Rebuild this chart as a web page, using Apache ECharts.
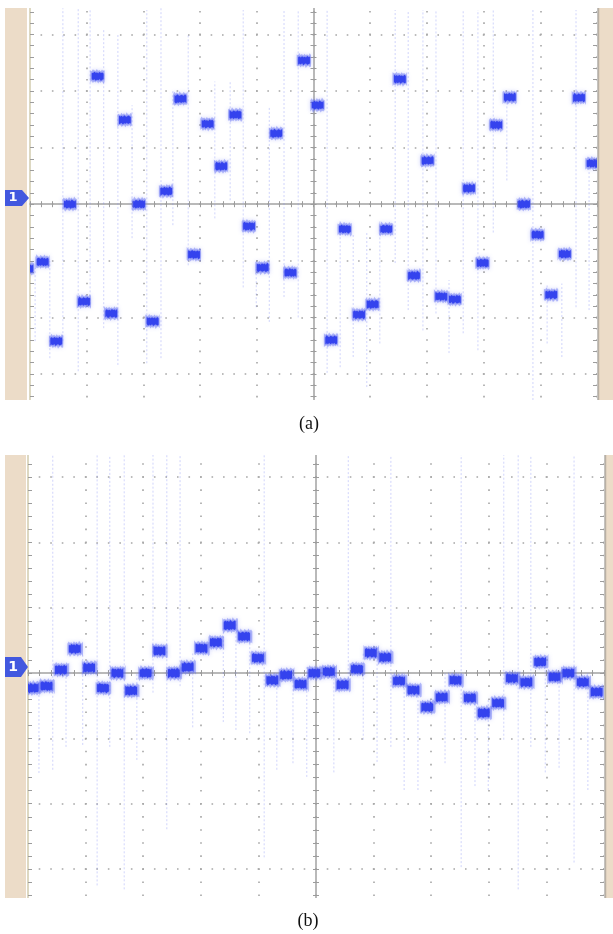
<!DOCTYPE html>
<html><head><meta charset="utf-8">
<script src="https://cdn.jsdelivr.net/npm/echarts@6/dist/echarts.min.js"></script>
<style>html,body{margin:0;padding:0;background:#fff;overflow:hidden;width:613px;height:934px}
#wrap{position:relative;width:613px;height:934px;overflow:hidden}
#c{position:absolute;left:0;top:-40px;width:613px;height:1014px}</style>
</head><body><div id="wrap"><div id="c"></div></div>
<script>
// ---- Panel (a): step times (divisions) and levels (divisions) ----
const timesA = [-5.04, -4.77, -4.53, -4.29, -4.04, -3.80, -3.56, -3.32, -3.07, -2.83, -2.59, -2.34, -2.10, -1.86, -1.62, -1.37, -1.13, -0.89, -0.65, -0.40, -0.16, 0.08, 0.32, 0.56, 0.81, 1.05, 1.29, 1.53, 1.78, 2.02, 2.26, 2.50, 2.75, 2.99, 3.23, 3.47, 3.72, 3.96, 4.20, 4.44, 4.69, 4.93];
const valuesA = [-1.14, -1.02, -2.42, 0.00, -1.72, 2.26, -1.93, 1.49, 0.00, -2.07, 0.23, 1.86, -0.89, 1.42, 0.67, 1.58, -0.39, -1.12, 1.25, -1.21, 2.54, 1.75, -2.40, -0.44, -1.95, -1.77, -0.44, 2.21, -1.26, 0.77, -1.63, -1.68, 0.28, -1.04, 1.40, 1.89, 0.00, -0.54, -1.60, -0.88, 1.88, 0.72];
// faint transient lines: [time, low, high]
const spikesA = [[-4.91,-2.42,-1.13],[-4.65,-2.72,-1.01],[-4.42,-2.42,3.46],[-4.15,-2.95,3.46],[-3.94,-1.84,3.43],[-3.70,-2.19,3.11],[-3.45,-2.84,2.99],[-3.20,-0.60,1.75],[-2.94,-2.81,3.43],[-2.69,-2.72,3.46],[-2.48,-0.37,2.0],[-2.21,-1.08,3.0],[-1.74,-0.25,2.17],[-1.47,0.07,2.19],[-1.24,-1.47,3.43],[-1.01,-1.82,-1.11],[-0.78,-2.08,1.71],[-0.52,-1.64,3.43],[-0.27,-2.0,3.43],[0.24,-2.98,3.43],[0.47,-2.88,-0.28],[0.70,-2.70,-0.51],[0.94,-3.23,-0.51],[1.17,-2.46,-0.28],[1.44,-1.04,3.43],[1.67,-1.87,3.43],[1.93,-2.23,3.43],[2.16,-1.93,3.43],[2.39,-2.63,-1.34],[2.64,-2.28,3.43],[2.90,-2.58,3.43],[3.17,-0.5,3.43],[3.41,0.42,1.84],[3.87,-3.46,3.43],[4.12,-2.46,-1.40],[4.38,-2.70,-1.40],[4.63,-1.82,3.43],[4.86,-1.87,0.78]];

// ---- Panel (b) ----
const timesB = [-4.91, -4.67, -4.42, -4.18, -3.93, -3.69, -3.44, -3.20, -2.95, -2.71, -2.46, -2.22, -1.98, -1.73, -1.49, -1.24, -1.00, -0.75, -0.51, -0.26, -0.02, 0.23, 0.47, 0.72, 0.96, 1.21, 1.45, 1.70, 1.94, 2.19, 2.43, 2.68, 2.92, 3.17, 3.41, 3.66, 3.90, 4.15, 4.39, 4.64, 4.88];
const valuesB = [-0.23, -0.20, 0.05, 0.37, 0.08, -0.23, 0.00, -0.27, 0.00, 0.34, 0.00, 0.09, 0.38, 0.47, 0.73, 0.56, 0.23, -0.11, -0.03, -0.17, 0.00, 0.02, -0.18, 0.06, 0.31, 0.24, -0.12, -0.26, -0.52, -0.37, -0.11, -0.38, -0.61, -0.46, -0.08, -0.14, 0.17, -0.06, 0.00, -0.14, -0.29];
const spikesB = [[-4.81,-1.53,-0.2],[-4.57,-1.48,3.4],[-4.34,-1.13,0.1],[-4.05,-1.10,0.3],[-3.80,-3.25,3.4],[-3.58,-1.13,3.4],[-3.33,-3.31,3.4],[-3.11,-1.33,0],[-2.83,-0.3,3.4],[-2.59,-2.39,3.4],[-2.36,-0.2,3.4],[-2.14,-0.83,0.3],[-1.61,-0.75,0.7],[-1.39,-0.87,0.8],[-1.15,-0.92,0.5],[-0.90,-2.82,3.4],[-0.68,-1.48,0],[-0.40,-1.38,0],[-0.16,-1.59,0.1],[0.31,-1.52,0.1],[0.56,-0.2,3.4],[0.82,-1.02,0.3],[1.06,-1.36,0.4],[1.30,-1.13,3.4],[1.53,-1.79,0],[1.77,-1.79,-0.3],[2.24,-1.38,0],[2.52,-2.97,3.4],[2.76,-1.73,-0.3],[2.99,-1.79,-0.4],[3.26,-1.02,3.4],[3.51,-3.31,3.4],[3.73,-1.13,3.4],[3.98,-1.52,0.2],[4.22,-1.45,0],[4.48,-2.90,3.4],[4.72,-1.79,0]];

const labelA = '(a)', labelB = '(b)', channelLabel = '1';

const OFF = 40; // the chart canvas starts 40px above the page

function axesFor(g, vDash, hDash) {
  const tickStyle = {color:'#9c9c9c', width:1};
  const xs = [
    {gridIndex:g, type:'value', min:-5, max:5, interval:1, position:'bottom',
     axisLine:{show:true, onZero:true, lineStyle:{color:'#a2a2a2', width:1.5}},
     axisTick:{show:true, length:3, lineStyle:tickStyle},
     minorTick:{show:true, splitNumber:5, length:3, lineStyle:tickStyle},
     axisLabel:{show:false},
     splitLine:{show:true, lineStyle:{color:'#a6a6a6', width:1.6, type:vDash, dashOffset:0.8}}},
    {gridIndex:g, type:'value', min:-5, max:5, interval:1, position:'top',
     axisLine:{show:false, onZero:true},
     axisTick:{show:true, length:3, lineStyle:tickStyle},
     minorTick:{show:true, splitNumber:5, length:3, lineStyle:tickStyle},
     axisLabel:{show:false}, splitLine:{show:false}}
  ];
  const ys = [
    {gridIndex:g, type:'value', min:-4, max:4, interval:1, position:'left',
     axisLine:{show:true, onZero:true, lineStyle:{color:'#a2a2a2', width:1.5}},
     axisTick:{show:true, length:3, lineStyle:tickStyle},
     minorTick:{show:true, splitNumber:5, length:3, lineStyle:tickStyle},
     axisLabel:{show:false},
     splitLine:{show:true, lineStyle:{color:'#a6a6a6', width:1.6, type:hDash, dashOffset:0.8}}},
    {gridIndex:g, type:'value', min:-4, max:4, interval:1, position:'right',
     axisLine:{show:false, onZero:true},
     axisTick:{show:true, length:3, lineStyle:tickStyle},
     minorTick:{show:true, splitNumber:5, length:3, lineStyle:tickStyle},
     axisLabel:{show:false}, splitLine:{show:false}},
    {gridIndex:g, type:'value', min:-4, max:4, interval:1, position:'left',
     axisLine:{show:true, onZero:false, lineStyle:{color:'#ddd8c2', width:2}},
     axisTick:{show:true, inside:true, length:4, lineStyle:tickStyle},
     minorTick:{show:true, splitNumber:5, length:4, lineStyle:tickStyle},
     axisLabel:{show:false}, splitLine:{show:false}},
    {gridIndex:g, type:'value', min:-4, max:4, interval:1, position:'right',
     axisLine:{show:true, onZero:false, lineStyle:{color:'#c9c9c9', width:1}},
     axisTick:{show:true, inside:true, length:4, lineStyle:tickStyle},
     minorTick:{show:true, splitNumber:5, length:4, lineStyle:tickStyle},
     axisLabel:{show:false}, splitLine:{show:false}}
  ];
  return {xs, ys};
}

const pa = axesFor(0, [1.6, 9.72], [1.6, 9.74]);
const pb = axesFor(1, [1.6, 11.47], [1.6, 9.92]);

// fixed jitter pattern (drawing texture only) to mimic trace noise
const JIT = [1.5,0.2,2.4,0.8,1.9,0.1,2.8,1.1,0.4,2.2,1.4,0.6,2.6,0.9,1.7,0.3,2.1,0.7];
function jagged(x0, x1, cy, h, phase, amp) {
  const top = [], bot = [];
  let k = phase;
  for (let x = x0; x <= x1 + 0.01; x += 1.3) {
    top.push([x, cy - h / 2 - JIT[k % JIT.length] * amp]);
    bot.push([x, cy + h / 2 + JIT[(k + 7) % JIT.length] * amp]);
    k++;
  }
  return top.concat(bot.reverse());
}
function blockRender(hw, halo, core) {
  return function (params, api) {
    const x = api.value(0), v = api.value(1);
    const a = api.coord([x - hw, v]), b = api.coord([x + hw, v]);
    const ph = params.dataIndex * 5;
    return {type:'group', children:[
      {type:'polygon', shape:{points:jagged(a[0] - 1.5, b[0] + 1.5, a[1], halo, ph, 1.1)},
       style:{fill:'rgba(100,112,245,0.45)', shadowBlur:4, shadowColor:'rgba(100,112,245,0.6)'}},
      {type:'polygon', shape:{points:jagged(a[0], b[0], a[1], core, ph + 3, 0.8)},
       style:{fill:'#3443ee', shadowBlur:2, shadowColor:'rgba(52,67,238,0.7)'}}
    ]};
  };
}
function spikeRender(params, api) {
  const t = api.value(0);
  const p1 = api.coord([t, api.value(1)]), p2 = api.coord([t, api.value(2)]);
  return {type:'line', shape:{x1:p1[0], y1:p1[1], x2:p2[0], y2:p2[1]},
    style:{stroke:'rgba(125,135,245,0.36)', lineWidth:1, lineDash:[2, 2]}};
}

const option = {
  animation:false,
  backgroundColor:'#ffffff',
  grid:[
    {left:30, top:-22.2 + OFF, width:567, height:452.8},
    {left:28, top:411.7 + OFF, width:576, height:522.7}
  ],
  xAxis:[...pa.xs, ...pb.xs],
  yAxis:[...pa.ys, ...pb.ys],
  series:[
    {type:'custom', xAxisIndex:0, yAxisIndex:0, clip:true, z:2, renderItem:spikeRender,
     encode:{x:0, y:[1, 2]}, data:spikesA},
    {type:'custom', xAxisIndex:0, yAxisIndex:0, clip:true, z:3, renderItem:blockRender(0.11, 9, 5),
     encode:{x:0, y:1}, data:timesA.map((t, i) => [t, valuesA[i]])},
    {type:'custom', xAxisIndex:2, yAxisIndex:4, clip:true, z:2, renderItem:spikeRender,
     encode:{x:0, y:[1, 2]}, data:spikesB},
    {type:'custom', xAxisIndex:2, yAxisIndex:4, clip:true, z:3, renderItem:blockRender(0.11, 10, 6),
     encode:{x:0, y:1}, data:timesB.map((t, i) => [t, valuesB[i]])}
  ],
  graphic:{elements:[
    {type:'rect', z:100, shape:{x:0, y:0, width:613, height:8 + OFF}, style:{fill:'#fff'}},
    {type:'rect', z:100, shape:{x:0, y:400 + OFF, width:613, height:55}, style:{fill:'#fff'}},
    {type:'rect', z:100, shape:{x:0, y:898 + OFF, width:613, height:80}, style:{fill:'#fff'}},
    // bezels
    {type:'rect', z:101, shape:{x:5, y:8 + OFF, width:22, height:392}, style:{fill:'#ecdcc8'}},
    {type:'rect', z:101, shape:{x:598, y:8 + OFF, width:15, height:392}, style:{fill:'#ecdcc8'}},
    {type:'line', z:102, shape:{x1:598.5, y1:8 + OFF, x2:598.5, y2:400 + OFF}, style:{stroke:'#b9b0a4', lineWidth:1.5}},
    {type:'rect', z:101, shape:{x:5, y:455 + OFF, width:21, height:443}, style:{fill:'#ecdcc8'}},
    {type:'rect', z:101, shape:{x:605, y:455 + OFF, width:8, height:443}, style:{fill:'#ecdcc8'}},
    {type:'line', z:102, shape:{x1:605.5, y1:455 + OFF, x2:605.5, y2:898 + OFF}, style:{stroke:'#b9b0a4', lineWidth:1.5}},
    // channel markers
    {type:'polygon', z:103, shape:{points:[[5,190 + OFF],[22,190 + OFF],[29,198 + OFF],[22,206 + OFF],[5,206 + OFF]]}, style:{fill:'#4258df'}},
    {type:'text', z:104, style:{text:channelLabel, x:13, y:198 + OFF, fill:'#ffffff', font:'bold 13px "DejaVu Sans"', align:'center', verticalAlign:'middle'}},
    {type:'polygon', z:103, shape:{points:[[5,657 + OFF],[21,657 + OFF],[28,667 + OFF],[21,677 + OFF],[5,677 + OFF]]}, style:{fill:'#4258df'}},
    {type:'text', z:104, style:{text:channelLabel, x:13, y:667 + OFF, fill:'#ffffff', font:'bold 14px "DejaVu Sans"', align:'center', verticalAlign:'middle'}},
    // captions
    {type:'text', z:104, style:{text:labelA, x:309, y:424 + OFF, fill:'#111', font:'18px "Liberation Serif"', align:'center', verticalAlign:'middle'}},
    {type:'text', z:104, style:{text:labelB, x:308, y:921 + OFF, fill:'#111', font:'18px "Liberation Serif"', align:'center', verticalAlign:'middle'}}
  ]}
};
const chart = echarts.init(document.getElementById('c'), null, {renderer:'canvas'});
chart.setOption(option);
</script></body></html>
